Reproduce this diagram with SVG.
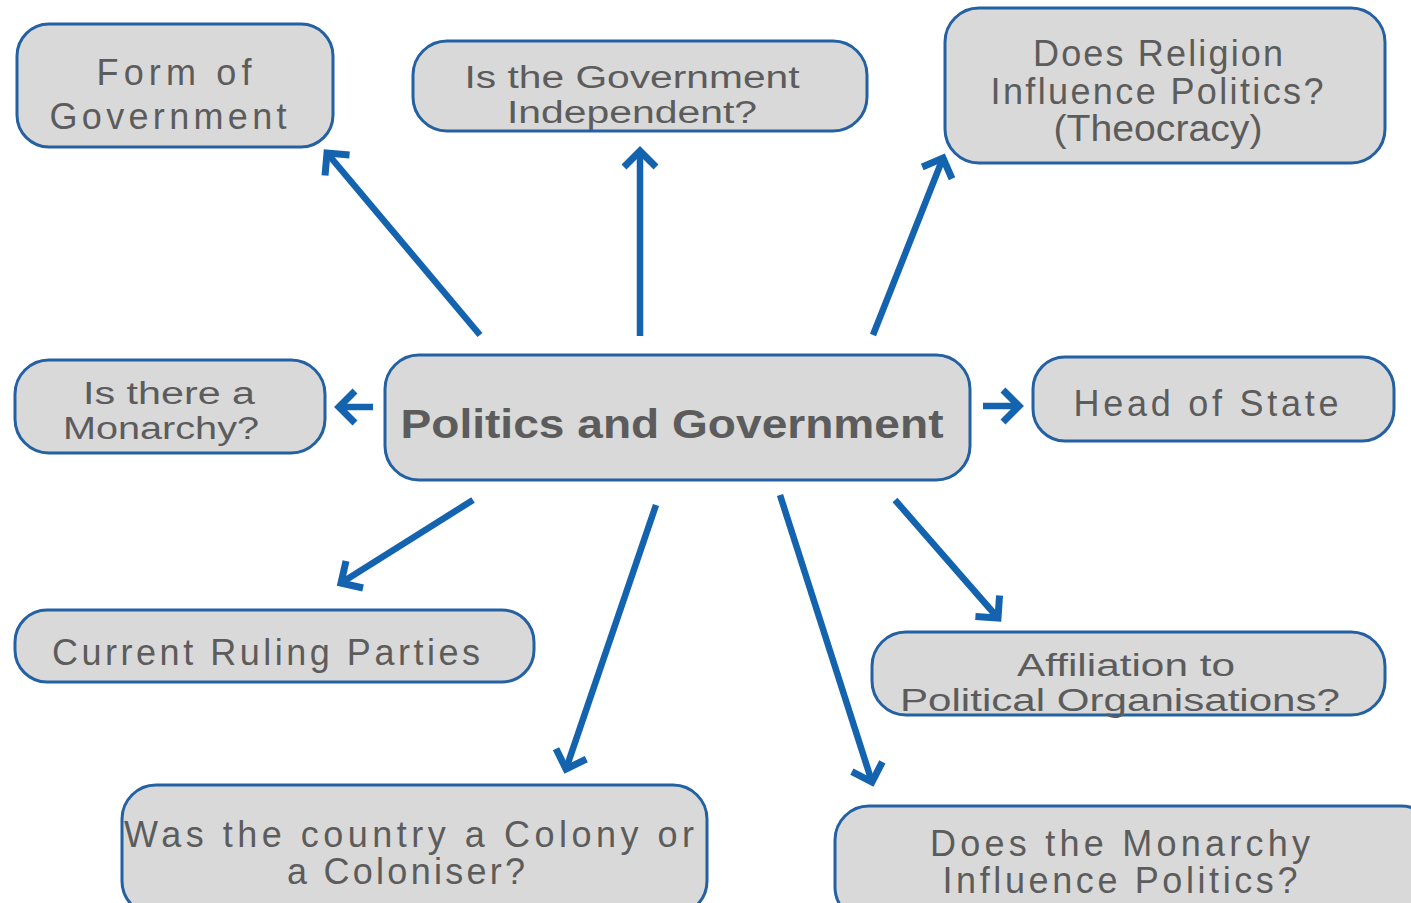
<svg xmlns="http://www.w3.org/2000/svg" width="1411" height="903" viewBox="0 0 1411 903">
<style>
.box{fill:#d9d9d9;stroke:#2461a3;stroke-width:3}
.t{font-family:"Liberation Sans",Arial,sans-serif;font-size:36px;fill:#5c5c5c;text-anchor:middle}
.s{font-size:31px}
.b{font-weight:bold;font-size:41px}
.c{stroke:#1463ae;stroke-width:6.5;fill:none;marker-end:url(#ah)}
</style>
<defs>
<marker id="ah" markerUnits="userSpaceOnUse" viewBox="-26 -22 32 44" markerWidth="32" markerHeight="44" refX="0" refY="0" orient="auto">
<path d="M-16,-16 L0,0 L-16,16" fill="none" stroke="#1463ae" stroke-width="7"/>
</marker>
</defs>
<rect width="1411" height="903" fill="#ffffff"/>
<g id="connectors">
<line class="c" x1="480" y1="335" x2="327" y2="153"/>
<line class="c" x1="640" y1="336" x2="640" y2="151"/>
<line class="c" x1="873" y1="335" x2="943" y2="158"/>
<line class="c" x1="373" y1="407" x2="339" y2="407"/>
<line class="c" x1="983" y1="406" x2="1019" y2="406"/>
<line class="c" x1="473" y1="500" x2="341" y2="583"/>
<line class="c" x1="656" y1="505" x2="566" y2="769"/>
<line class="c" x1="780" y1="495" x2="872" y2="782"/>
<line class="c" x1="895" y1="500" x2="998" y2="618"/>
</g>
<g id="form">
<rect class="box" x="17" y="24" width="316" height="123" rx="32"/>
<text class="t" x="174" y="85" textLength="155" lengthAdjust="spacing">Form  of</text>
<text class="t" x="168" y="129" textLength="237" lengthAdjust="spacing">Government</text>
</g>
<g id="independent">
<rect class="box" x="413" y="41" width="454" height="90" rx="34"/>
<text class="t s" x="632" y="88" textLength="335" lengthAdjust="spacingAndGlyphs">Is the Government</text>
<text class="t s" x="632" y="123" textLength="250" lengthAdjust="spacingAndGlyphs">Independent?</text>
</g>
<g id="religion">
<rect class="box" x="945" y="8" width="440" height="155" rx="34"/>
<text class="t" x="1158" y="66" textLength="250" lengthAdjust="spacing">Does  Religion</text>
<text class="t" x="1157" y="104" textLength="333" lengthAdjust="spacing">Influence  Politics?</text>
<text class="t" x="1158" y="141" textLength="209" lengthAdjust="spacingAndGlyphs">(Theocracy)</text>
</g>
<g id="monarchy">
<rect class="box" x="15" y="360" width="310" height="93" rx="34"/>
<text class="t s" x="169" y="404" textLength="172" lengthAdjust="spacingAndGlyphs">Is there  a</text>
<text class="t s" x="161" y="439" textLength="196" lengthAdjust="spacingAndGlyphs">Monarchy?</text>
</g>
<g id="center">
<rect class="box" x="385" y="355" width="585" height="125" rx="34"/>
<text class="t b" x="672" y="438" textLength="543" lengthAdjust="spacingAndGlyphs">Politics and Government</text>
</g>
<g id="head">
<rect class="box" x="1033" y="357" width="361" height="84" rx="32"/>
<text class="t" x="1206" y="416" textLength="265" lengthAdjust="spacing">Head  of State</text>
</g>
<g id="parties">
<rect class="box" x="15" y="610" width="519" height="72" rx="32"/>
<text class="t" x="266" y="665" textLength="428" lengthAdjust="spacing">Current  Ruling  Parties</text>
</g>
<g id="affiliation">
<rect class="box" x="872" y="632" width="513" height="83" rx="34"/>
<text class="t s" x="1126" y="676" textLength="218" lengthAdjust="spacingAndGlyphs">Affiliation  to</text>
<text class="t s" x="1120" y="711" textLength="440" lengthAdjust="spacingAndGlyphs">Political   Organisations?</text>
</g>
<g id="colony">
<rect class="box" x="122" y="785" width="585" height="130" rx="34"/>
<text class="t" x="409" y="847" textLength="570" lengthAdjust="spacing">Was  the  country  a Colony  or</text>
<text class="t" x="406" y="884" textLength="238" lengthAdjust="spacing">a Coloniser?</text>
</g>
<g id="monarchyinfluence">
<rect class="box" x="835" y="806" width="600" height="115" rx="34"/>
<text class="t" x="1120" y="856" textLength="380" lengthAdjust="spacing">Does the  Monarchy</text>
<text class="t" x="1120" y="893" textLength="355" lengthAdjust="spacing">Influence  Politics?</text>
</g>
</svg>
